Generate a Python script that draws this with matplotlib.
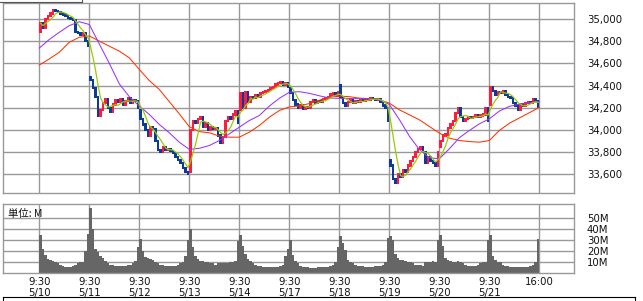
import matplotlib
matplotlib.use('Agg')
import matplotlib.pyplot as plt
from matplotlib.lines import Line2D
import pandas as pd

days = ['5/10', '5/11', '5/12', '5/13', '5/14', '5/17', '5/18', '5/19', '5/20', '5/21']
bars_per_day = 20

# opening price of the first bar of each day
day_open = [34880, 34480, 34180, 33620, 34180, 34380, 34400, 33730, 33850, 34230]

close = [
    # 5/10
    34960, 34920, 35000, 35030, 35050, 35080, 35070, 35060, 35050, 35040,
    35030, 35010, 35000, 34990, 34880, 34870, 34860, 34870, 34800, 34760,
    # 5/11
    34450, 34380, 34300, 34130, 34180, 34240, 34280, 34200, 34160, 34230,
    34270, 34250, 34280, 34230, 34260, 34290, 34240, 34270, 34260, 34200,
    # 5/12
    34100, 34050, 34000, 33950, 34030, 34010, 33900, 33820, 33800, 33850,
    33820, 33830, 33810, 33790, 33760, 33730, 33700, 33660, 33620, 33600,
    # 5/13
    34000, 34080, 34060, 34100, 34120, 34030, 34060, 34000, 34030, 34010,
    34020, 33950, 33880, 33940, 34080, 34120, 34100, 34140, 34170, 34060,
    # 5/14
    34330, 34200, 34340, 34250, 34300, 34290, 34310, 34300, 34330, 34340,
    34350, 34360, 34380, 34390, 34410, 34420, 34430, 34410, 34420, 34390,
    # 5/17
    34330, 34270, 34230, 34200, 34220, 34190, 34210, 34200, 34250, 34270,
    34240, 34260, 34250, 34280, 34290, 34300, 34320, 34330, 34310, 34340,
    # 5/18
    34300, 34240, 34220, 34250, 34270, 34240, 34260, 34250, 34270, 34260,
    34280, 34270, 34290, 34280, 34270, 34280, 34250, 34220, 34200, 34080,
    # 5/19
    33680, 33560, 33520, 33600, 33580, 33640, 33620, 33680, 33720, 33760,
    33800, 33830, 33850, 33800, 33700, 33760, 33720, 33700, 33680, 33800,
    # 5/20
    33900, 33950, 33960, 34020, 34050, 34080, 34150, 34200, 34120, 34080,
    34100, 34120, 34110, 34120, 34130, 34120, 34130, 34140, 34200, 34080,
    # 5/21
    34390, 34350, 34320, 34340, 34330, 34350, 34320, 34300, 34290, 34240,
    34220, 34180, 34230, 34220, 34240, 34250, 34240, 34280, 34260, 34210,
]

# volume in millions
volume = [
    35, 22, 17, 13, 12, 11, 10, 9, 8, 7, 6, 6, 6, 7, 8, 9, 10, 10, 20, 36,
    59, 40, 22, 19, 16, 14, 11, 9, 8, 8, 7, 7, 7, 7, 7, 8, 8, 9, 11, 24,
    31, 20, 15, 14, 13, 12, 10, 9, 8, 8, 7, 7, 7, 7, 7, 8, 9, 10, 16, 30,
    40, 24, 16, 13, 11, 11, 10, 10, 9, 9, 8, 9, 9, 9, 9, 9, 10, 10, 11, 29,
    35, 25, 18, 13, 11, 9, 8, 7, 7, 6, 6, 6, 6, 6, 6, 6, 7, 8, 16, 22,
    30, 17, 11, 9, 7, 6, 6, 6, 5, 5, 5, 6, 6, 6, 6, 6, 7, 8, 10, 24,
    34, 28, 21, 12, 10, 9, 8, 7, 7, 7, 6, 6, 6, 6, 7, 7, 7, 8, 10, 32,
    34, 30, 18, 14, 12, 12, 11, 10, 10, 9, 8, 8, 8, 7, 10, 10, 10, 11, 10, 30,
    35, 25, 14, 12, 11, 10, 10, 11, 10, 9, 8, 7, 7, 7, 7, 8, 9, 10, 10, 30,
    35, 16, 12, 10, 10, 8, 7, 7, 6, 6, 6, 6, 6, 6, 6, 6, 7, 8, 10, 31,
]

# medium and long moving averages, read every 4 bars
ma_mid = [
    34738, 34815, 34880, 34940, 34975, 34950, 34775, 34600, 34415, 34300,
    34215, 34140, 34050, 33975, 33890, 33825, 33835, 33860, 33905, 33965,
    34025, 34085, 34130, 34215, 34285, 34340, 34345, 34330, 34308, 34288,
    34285, 34283, 34282, 34280, 34272, 34230, 34095, 33945, 33825, 33750,
    33740, 33830, 33930, 33995, 34055, 34100, 34170, 34212, 34232, 34245,
    34255,
]
ma_long = [
    34585, 34640, 34700, 34790, 34835, 34847, 34800, 34755, 34710, 34650,
    34545, 34445, 34365, 34255, 34145, 34030, 33985, 33975, 33945, 33935,
    33935, 33980, 34040, 34115, 34175, 34208, 34216, 34238, 34268, 34298,
    34305, 34300, 34287, 34282, 34272, 34242, 34182, 34137, 34092, 34032,
    33972, 33927, 33905, 33896, 33890, 33905, 33995, 34060, 34108, 34155,
    34204,
]

price_ticks = [33600, 33800, 34000, 34200, 34400, 34600, 34800, 35000]
vol_ticks = [10, 20, 30, 40, 50]

plt.rcParams['font.family'] = ['DejaVu Sans']
plt.rcParams['font.size'] = 7.3

n = len(close)
xs = [i + 0.5 for i in range(n)]
opens = [day_open[i // bars_per_day] if i % bars_per_day == 0 else close[i - 1] for i in range(n)]
ma_short = pd.Series(close).rolling(5, min_periods=1).mean()
ma_x = [4 * k for k in range(len(ma_mid))]

W, H = 643, 301
fig = plt.figure(figsize=(W / 100, H / 100), dpi=100)
ax = fig.add_axes([3.3 / W, 1 - 192.7 / H, 571 / W, 189.4 / H])
axv = fig.add_axes([3.3 / W, 1 - 273.3 / H, 571 / W, 69.3 / H])

grid_c = '#999999'
day_lines = [bars_per_day * d for d in range(len(days))] + [n]

for a in (ax, axv):
    a.set_xlim(-14.4, 214)
    for s in a.spines.values():
        s.set_color(grid_c)
        s.set_linewidth(1)
    for x in day_lines:
        a.axvline(x, color=grid_c, lw=1, zorder=0)
    a.yaxis.tick_right()
    a.tick_params(axis='y', length=0, pad=9, labelsize=7.3, colors='#111111')
    a.tick_params(axis='x', length=0)

# price panel
ax.set_ylim(33435, 35141)
ax.set_yticks(price_ticks)
ax.set_yticklabels([f'{v:,}' for v in price_ticks])
for v in price_ticks:
    ax.axhline(v, color=grid_c, lw=1, zorder=0)
ax.set_xticks([])

bottoms = [min(o, c) - 10 for o, c in zip(opens, close)]
heights = [max(abs(c - o), 10) + 20 for o, c in zip(opens, close)]
colors = ['#ff1a40' if c >= o else '#0a3a9a' for o, c in zip(opens, close)]
ax.bar(xs, heights, bottom=bottoms, width=0.85, color=colors, zorder=2)

ax.plot(ma_x, ma_long, color='#ff3300', lw=0.75, zorder=3)
ax.plot(ma_x, ma_mid, color='#9933ff', lw=0.75, zorder=3)
ax.plot(xs, ma_short, color='#99cc00', lw=0.9, zorder=4)

# volume panel
axv.set_ylim(0, 63)
axv.set_yticks(vol_ticks)
axv.set_yticklabels([f'{v}M' for v in vol_ticks])
for v in vol_ticks:
    axv.axhline(v, color=grid_c, lw=1, zorder=0)
axv.bar(xs, volume, width=1.0, color='#666666', zorder=2)
axv.set_xticks(day_lines)
axv.set_xticklabels([f'9:30\n{d}' for d in days] + ['16:00'], linespacing=1.05)
axv.tick_params(axis='x', pad=3, labelsize=7.3, colors='#111111')
for t in axv.get_xticklabels():
    t.set_verticalalignment('top')
axv.text(0.009, 0.93, '単位: M', transform=axv.transAxes, ha='left', va='top',
         fontsize=7.5, family=['Noto Sans CJK JP', 'DejaVu Sans'], color='#111111')

# tab frame lines
fig.add_artist(Line2D([0, 81.7 / W], [1 - 1.5 / H] * 2, color='#555555', lw=0.8))
fig.add_artist(Line2D([81.7 / W] * 2, [1 - 1.5 / H, 1], color='#555555', lw=0.8))
fig.add_artist(Line2D([3.3 / W, 635 / W], [1 - 296.7 / H] * 2, color='#000000', lw=0.8))
fig.add_artist(Line2D([3.3 / W] * 2, [0, 1 - 296.7 / H], color='#000000', lw=0.8))
fig.add_artist(Line2D([635 / W] * 2, [0, 1 - 296.7 / H], color='#000000', lw=0.8))

fig.savefig('out.png', dpi=100)
